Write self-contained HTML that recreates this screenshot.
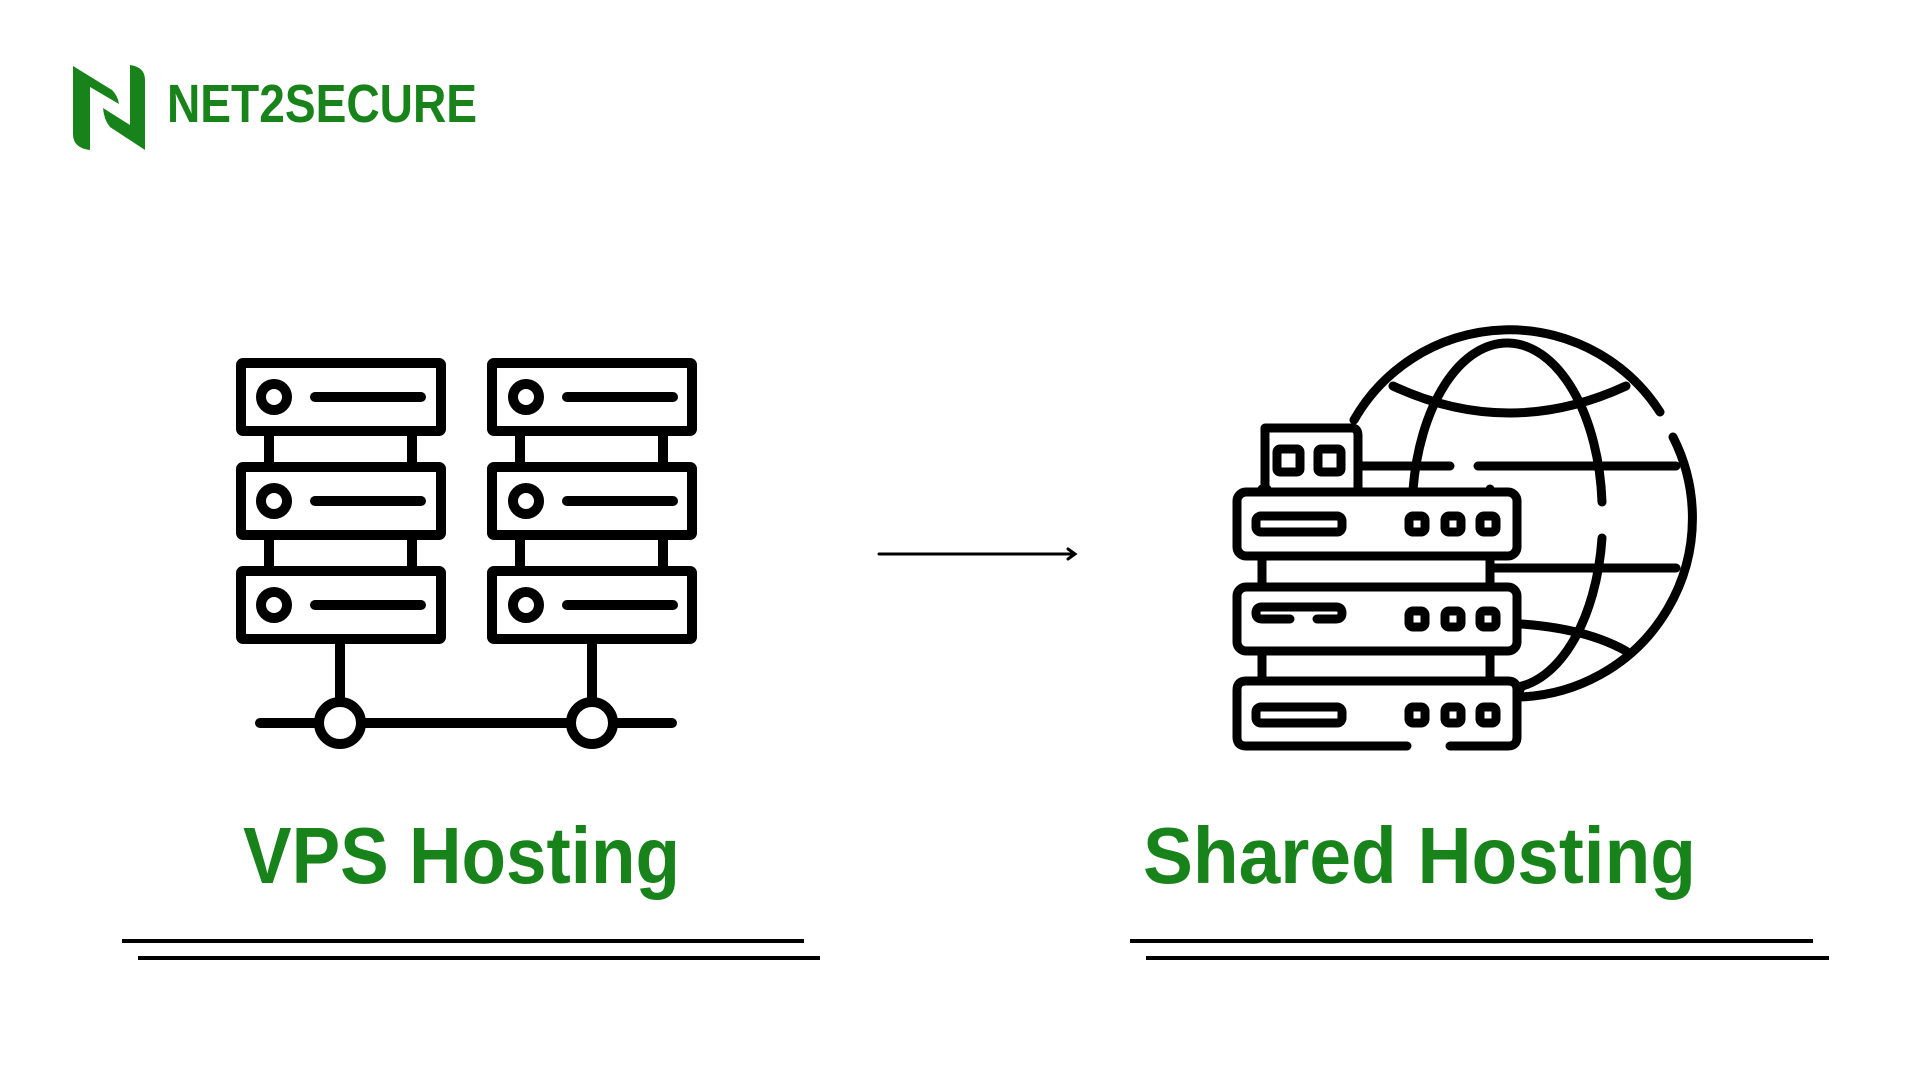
<!DOCTYPE html>
<html><head><meta charset="utf-8"><style>
html,body{margin:0;padding:0;background:#fff;}
svg{display:block;}
</style></head><body>
<svg width="1920" height="1080" viewBox="0 0 1920 1080" xmlns="http://www.w3.org/2000/svg">
<rect width="1920" height="1080" fill="#fff"/>
<!-- Logo -->
<g fill="#17831a">
  <path d="M73 66 L112 90 Q118 96 119 104 L90 87 L90 150 Q73 148 73 134 Z"/>
  <path d="M130 65 Q145 67 145 80 L145 150 L110 127 Q104 120 103 108 L130 125 Z"/>
</g>
<text x="167" y="122" font-family="Liberation Sans, sans-serif" font-weight="bold" font-size="54" fill="#17831a" textLength="310" lengthAdjust="spacingAndGlyphs">NET2SECURE</text>

<!-- VPS racks -->
<g fill="none" stroke="#000" stroke-width="10" stroke-linecap="round" stroke-linejoin="round">
  <rect x="241" y="363" width="200" height="68" rx="2"/>
  <rect x="241" y="467" width="200" height="68" rx="2"/>
  <rect x="241" y="571" width="200" height="68" rx="2"/>
  <path d="M269 431 V467 M412 431 V467 M269 535 V571 M412 535 V571"/>
  <circle cx="274" cy="397" r="13"/><circle cx="274" cy="501" r="13"/><circle cx="274" cy="605" r="13"/>
  <path d="M315 397 H421 M315 501 H421 M315 605 H421"/>
  <rect x="492" y="363" width="200" height="68" rx="2"/>
  <rect x="492" y="467" width="200" height="68" rx="2"/>
  <rect x="492" y="571" width="200" height="68" rx="2"/>
  <path d="M520 431 V467 M663 431 V467 M520 535 V571 M663 535 V571"/>
  <circle cx="526" cy="397" r="13"/><circle cx="526" cy="501" r="13"/><circle cx="526" cy="605" r="13"/>
  <path d="M567 397 H673 M567 501 H673 M567 605 H673"/>
  <path d="M340 645 V700 M592 645 V700"/>
  <path d="M260 723 H318 M362 723 H570 M614 723 H672"/>
  <circle cx="340" cy="723" r="21"/>
  <circle cx="592" cy="723" r="21"/>
</g>
<text x="243" y="883" font-family="Liberation Sans, sans-serif" font-weight="bold" font-size="80" fill="#17831a" textLength="437" lengthAdjust="spacingAndGlyphs">VPS Hosting</text>
<g stroke="#000" stroke-width="4">
  <path d="M122 941 H804 M138 958 H820"/>
</g>

<!-- arrow -->
<g stroke="#000" stroke-width="3" fill="none" stroke-linecap="round">
  <path d="M879 554 H1074"/>
  <path d="M1068 549 L1075 554 L1068 559"/>
</g>

<!-- Globe -->
<g fill="none" stroke="#000" stroke-width="9" stroke-linecap="round">
  <path d="M1354 420 A179 179 0 0 1 1660 412"/>
  <path d="M1673 437 A179 179 0 0 1 1520 697"/>
  <path d="M1602 502 A95 170 0 0 0 1508 343 A95 170 0 0 0 1413 490"/>
  <path d="M1602 538 A95 170 0 0 1 1508 688 L1520 690"/>
  <path d="M1393 386 Q1509 440 1626 386"/>
  <path d="M1500 623 Q1580 625 1626 651"/>
  <path d="M1359 466 H1450 M1478 466 H1676"/>
  <path d="M1495 568 H1676"/>
</g>
<!-- servers -->
<g fill="#fff" stroke="#000" stroke-width="9" stroke-linecap="round" stroke-linejoin="round">
  <path d="M1265 437 V428 Q1265 428 1272 428 H1352 Q1358 428 1358 436 V489 M1265 438 V489"/>
  <rect x="1277" y="449" width="23" height="23" rx="3"/>
  <rect x="1318" y="449" width="23" height="23" rx="3"/>
  <path d="M1267 489 H1262 V584 M1490 489 V584 M1262 584 V678 M1490 584 V678"/>
  <rect x="1237" y="492" width="280" height="64" rx="9"/>
  <rect x="1237" y="587" width="280" height="64" rx="9"/>
  <path d="M1407 746 H1246 Q1237 746 1237 737 V690 Q1237 681 1246 681 H1508 Q1517 681 1517 690 V737 Q1517 746 1508 746 H1450"/>
  <rect x="1256" y="516" width="86" height="16" rx="5"/>
  <path d="M1290 619 H1262 Q1256 619 1256 613 Q1256 607 1262 607 H1336 Q1342 607 1342 613 Q1342 619 1336 619 H1317" fill="none"/>
  <rect x="1256" y="707" width="86" height="16" rx="5"/>
  <g>
    <rect x="1409" y="516" width="16" height="16" rx="4"/><rect x="1445" y="516" width="16" height="16" rx="4"/><rect x="1480" y="516" width="16" height="16" rx="4"/>
    <rect x="1409" y="611" width="16" height="16" rx="4"/><rect x="1445" y="611" width="16" height="16" rx="4"/><rect x="1480" y="611" width="16" height="16" rx="4"/>
    <rect x="1409" y="707" width="16" height="16" rx="4"/><rect x="1445" y="707" width="16" height="16" rx="4"/><rect x="1480" y="707" width="16" height="16" rx="4"/>
  </g>
</g>
<text x="1143" y="883" font-family="Liberation Sans, sans-serif" font-weight="bold" font-size="80" fill="#17831a" textLength="553" lengthAdjust="spacingAndGlyphs">Shared Hosting</text>
<g stroke="#000" stroke-width="4">
  <path d="M1134 941 H1817 M1150 958 H1833" transform="translate(-4 0)"/>
</g>
</svg>
</body></html>
